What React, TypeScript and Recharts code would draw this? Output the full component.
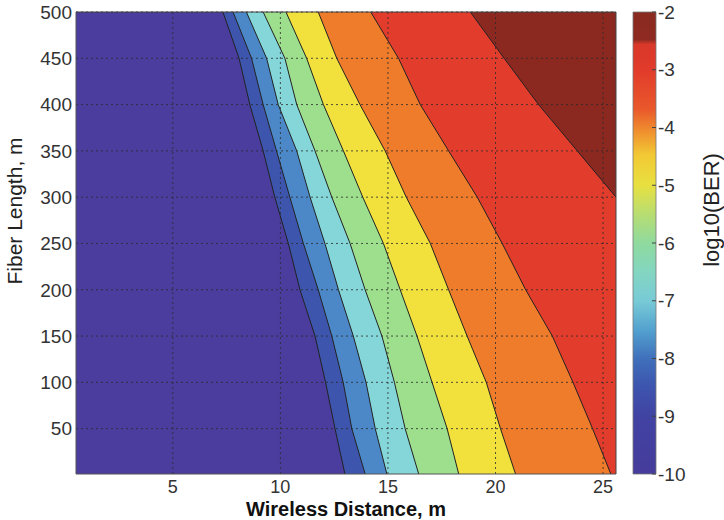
import {
  Area,
  Bar,
  BarChart,
  CartesianGrid,
  ComposedChart,
  Label,
  ReferenceLine,
  XAxis,
  YAxis,
} from "recharts";

// fiber length rows (m), top to bottom
const fiberLength = [500, 450, 400, 350, 300, 250, 200, 150, 100, 50, 1];

// wireless distance (m) of each contour line at the rows above, left to right
const edge1 = [7.33, 8.08, 8.58, 9.2, 9.74, 10.37, 10.91, 11.61, 12.1, 12.54, 13.0];
const edge2 = [7.8, 8.66, 9.2, 9.82, 10.44, 11.07, 11.76, 12.39, 12.92, 13.32, 13.94];
const edge3 = [8.42, 9.36, 9.9, 10.76, 11.38, 12.07, 12.7, 13.39, 13.98, 14.41, 14.95];
const edge4 = [9.2, 10.21, 10.76, 11.61, 12.39, 13.24, 13.94, 14.72, 15.3, 15.8, 16.43];
const edge5 = [10.26, 11.22, 12.0, 12.93, 13.83, 14.79, 15.57, 16.35, 17.05, 17.75, 18.29];
const edge6 = [11.76, 12.62, 13.7, 14.87, 15.85, 16.97, 17.82, 18.68, 19.57, 20.23, 20.93];
const edge7 = [14.2, 15.49, 16.5, 17.82, 19.15, 20.31, 21.4, 22.64, 23.6, 24.51, 25.36];
// last contour only crosses the top five rows
const edge8 = [18.83, 20.4, 22.0, 23.8, 25.6];

const xTicks = [5, 10, 15, 20, 25];
const yTicks = [50, 100, 150, 200, 250, 300, 350, 400, 450, 500];
const cbTicks = [-10, -9, -8, -7, -6, -5, -4, -3, -2];

const X_MIN = 0.5;
const X_MAX = 25.6;

const bandFill = {
  b1: "#4a3d9e",
  b2: "#3d55ad",
  b3: "#4c88c7",
  b4: "#85d6d8",
  b5: "#9ddf8d",
  b6: "#f2e03d",
  b7: "#ef7c2b",
  b8: "#e23c2c",
  b9: "#8b2921",
};

const jetStops: [number, string][] = [
  [0, "#463c9b"],
  [0.125, "#4143a3"],
  [0.19, "#3d55ae"],
  [0.25, "#4070bb"],
  [0.31, "#52a0cf"],
  [0.375, "#78cbd6"],
  [0.44, "#84d6c0"],
  [0.5, "#8fda9e"],
  [0.56, "#b6dd74"],
  [0.625, "#e8e040"],
  [0.69, "#f2c935"],
  [0.74, "#f0912e"],
  [0.79, "#e9582b"],
  [0.875, "#e13b2b"],
  [0.93, "#d9382a"],
  [0.94, "#8e2a21"],
  [1, "#8a2a20"],
];

const rows = fiberLength.map((len, i) => ({
  len,
  e1: edge1[i],
  e2: edge2[i],
  e3: edge3[i],
  e4: edge4[i],
  e5: edge5[i],
  e6: edge6[i],
  e7: edge7[i],
  e8: i < edge8.length ? edge8[i] : null,
}));

const cbData = [{ k: "cb", range: [-10, -2] }];

const tickStyle = { fontSize: 18, fill: "#333" };
const gridProps = { stroke: "#2a2a2a", strokeDasharray: "2 3", strokeWidth: 1, strokeOpacity: 0.8 };

function ContourPlot() {
  return (
    <ComposedChart
      width={724}
      height={520}
      layout="vertical"
      data={rows}
      margin={{ top: 12, right: 108, bottom: 0, left: 0 }}
    >
      <CartesianGrid fill={bandFill.b8} horizontal={false} vertical={false} />
      <XAxis
        type="number"
        domain={[X_MIN, X_MAX]}
        ticks={xTicks}
        allowDataOverflow
        height={46}
        tickLine={false}
        tickSize={0}
        tickMargin={6}
        axisLine={{ stroke: "#555" }}
        tick={tickStyle}
      >
        <Label
          value="Wireless Distance, m"
          position="insideBottom"
          offset={4}
          style={{ fontWeight: "bold", fontSize: 20, fill: "#111" }}
        />
      </XAxis>
      <YAxis
        type="number"
        dataKey="len"
        domain={[1, 500]}
        ticks={yTicks}
        reversed
        allowDataOverflow
        width={76}
        tickLine={false}
        tickSize={0}
        tickMargin={4}
        axisLine={{ stroke: "#555" }}
        tick={{ fontSize: 19, fill: "#333" }}
      >
        <Label
          content={() => (
            <text
              x={22}
              y={211}
              transform="rotate(-90 22 211)"
              textAnchor="middle"
              fontSize={21}
              fill="#222"
            >
              Fiber Length, m
            </text>
          )}
        />
      </YAxis>

      <Area type="linear" dataKey="e8" baseValue="dataMax" fill={bandFill.b9} fillOpacity={1} stroke="#222" strokeWidth={1} dot={false} activeDot={false} isAnimationActive={false} />
      <Area type="linear" dataKey="e7" fill={bandFill.b7} fillOpacity={1} stroke="#222" strokeWidth={1} dot={false} activeDot={false} isAnimationActive={false} />
      <Area type="linear" dataKey="e6" fill={bandFill.b6} fillOpacity={1} stroke="#222" strokeWidth={1} dot={false} activeDot={false} isAnimationActive={false} />
      <Area type="linear" dataKey="e5" fill={bandFill.b5} fillOpacity={1} stroke="#222" strokeWidth={1} dot={false} activeDot={false} isAnimationActive={false} />
      <Area type="linear" dataKey="e4" fill={bandFill.b4} fillOpacity={1} stroke="#222" strokeWidth={1} dot={false} activeDot={false} isAnimationActive={false} />
      <Area type="linear" dataKey="e3" fill={bandFill.b3} fillOpacity={1} stroke="#222" strokeWidth={1} dot={false} activeDot={false} isAnimationActive={false} />
      <Area type="linear" dataKey="e2" fill={bandFill.b2} fillOpacity={1} stroke="#222" strokeWidth={1} dot={false} activeDot={false} isAnimationActive={false} />
      <Area type="linear" dataKey="e1" fill={bandFill.b1} fillOpacity={1} stroke="#222" strokeWidth={1} dot={false} activeDot={false} isAnimationActive={false} />

      {xTicks.map((t) => (
        <ReferenceLine key={"gx" + t} x={t} {...gridProps} />
      ))}
      {yTicks.map((t) => (
        <ReferenceLine key={"gy" + t} y={t} {...gridProps} />
      ))}
      <ReferenceLine y={500} stroke="#444" />
      <ReferenceLine x={X_MAX} stroke="#444" />
    </ComposedChart>
  );
}

function ColorBar() {
  return (
    <BarChart
      width={124}
      height={520}
      data={cbData}
      barCategoryGap={0}
      margin={{ top: 12, right: 28, bottom: 46, left: 23 }}
    >
      <defs>
        <linearGradient id="jet" x1="0" y1="1" x2="0" y2="0">
          {jetStops.map(([o, c]) => (
            <stop key={o} offset={o} stopColor={c} />
          ))}
        </linearGradient>
      </defs>
      <XAxis dataKey="k" hide />
      <YAxis
        yAxisId="l"
        orientation="left"
        type="number"
        domain={[-10, -2]}
        ticks={cbTicks}
        width={10}
        axisLine={false}
        tick={false}
        tickSize={-4}
        tickLine={{ stroke: "#444" }}
      />
      <YAxis
        orientation="right"
        type="number"
        domain={[-10, -2]}
        ticks={cbTicks}
        width={40}
        axisLine={false}
        tickSize={-4}
        tickMargin={6}
        tickLine={{ stroke: "#444" }}
        tick={{ fontSize: 19, fill: "#333" }}
      >
        <Label
          content={() => (
            <text
              x={119}
              y={210}
              transform="rotate(-90 119 210)"
              textAnchor="middle"
              fontSize={22}
              fill="#222"
            >
              log10(BER)
            </text>
          )}
        />
      </YAxis>
      <Bar dataKey="range" fill="url(#jet)" stroke="#777" strokeWidth={0.8} isAnimationActive={false} />
    </BarChart>
  );
}

export default function App() {
  return (
    <div
      style={{
        position: "absolute",
        left: 0,
        top: 0,
        width: 724,
        height: 520,
        background: "#fff",
        fontFamily: "'Liberation Sans', Arial, sans-serif",
      }}
    >
      <div style={{ position: "absolute", left: 0, top: 0 }}>
        <ContourPlot />
      </div>
      <div style={{ position: "absolute", left: 600, top: 0 }}>
        <ColorBar />
      </div>
    </div>
  );
}
